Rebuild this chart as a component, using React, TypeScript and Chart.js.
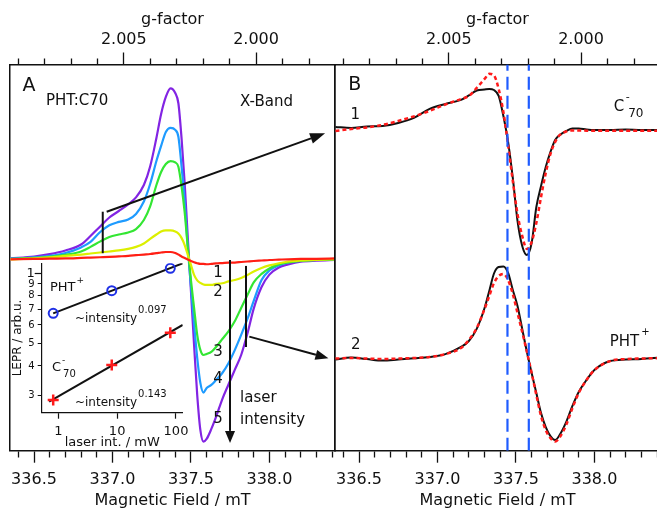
import { useEffect, useRef } from "react";
import { Chart, registerables } from "chart.js";

Chart.register(...registerables);

const FONT = "'DejaVu Sans', 'Liberation Sans', sans-serif";
const INK = "#111111";

// ---------- Panel A: light-induced EPR spectra of PHT:C70 (X-band), 5 laser intensities
const fieldA = [336.35, 336.5, 336.6, 336.7, 336.8, 336.86, 336.92, 336.98, 337.04, 337.1, 337.15, 337.2, 337.24, 337.28, 337.31, 337.34, 337.37, 337.4, 337.42, 337.44, 337.46, 337.48, 337.5, 337.52, 337.54, 337.56, 337.58, 337.6, 337.63, 337.66, 337.7, 337.74, 337.78, 337.82, 337.86, 337.9, 337.95, 338.0, 338.06, 338.12, 338.2, 338.3, 338.42];
const spectrum1 = [-0.002, 0.0, 0.002, 0.003, 0.006, 0.008, 0.01, 0.012, 0.015, 0.018, 0.022, 0.026, 0.029, 0.034, 0.038, 0.041, 0.041, 0.035, 0.026, 0.015, 0.006, -0.003, -0.012, -0.019, -0.025, -0.029, -0.029, -0.031, -0.029, -0.026, -0.024, -0.022, -0.021, -0.018, -0.015, -0.012, -0.009, -0.006, -0.004, -0.002, 0.0, 0.001, 0.003];
const spectrum2 = [-0.002, 0.003, 0.009, 0.018, 0.026, 0.032, 0.038, 0.044, 0.05, 0.059, 0.071, 0.091, 0.118, 0.144, 0.162, 0.168, 0.168, 0.162, 0.15, 0.124, 0.082, 0.024, -0.035, -0.094, -0.126, -0.141, -0.15, -0.153, -0.153, -0.147, -0.143, -0.132, -0.124, -0.112, -0.094, -0.074, -0.053, -0.038, -0.025, -0.015, -0.009, -0.005, -0.002];
const spectrum3 = [0.0, 0.006, 0.012, 0.024, 0.044, 0.071, 0.102, 0.129, 0.144, 0.156, 0.176, 0.229, 0.309, 0.435, 0.512, 0.559, 0.576, 0.568, 0.543, 0.429, 0.276, 0.066, -0.124, -0.288, -0.447, -0.535, -0.565, -0.559, -0.547, -0.518, -0.471, -0.424, -0.365, -0.288, -0.212, -0.138, -0.088, -0.056, -0.032, -0.021, -0.012, -0.006, -0.003];
const spectrum4 = [0.002, 0.009, 0.018, 0.035, 0.068, 0.1, 0.157, 0.198, 0.218, 0.232, 0.265, 0.338, 0.441, 0.576, 0.665, 0.747, 0.771, 0.759, 0.719, 0.547, 0.338, 0.065, -0.159, -0.382, -0.582, -0.729, -0.786, -0.759, -0.741, -0.712, -0.671, -0.612, -0.535, -0.447, -0.353, -0.247, -0.124, -0.068, -0.038, -0.021, -0.01, -0.006, -0.003];
const spectrum5 = [0.004, 0.014, 0.028, 0.05, 0.085, 0.135, 0.19, 0.244, 0.282, 0.321, 0.362, 0.435, 0.544, 0.712, 0.853, 0.953, 1.003, 0.976, 0.916, 0.712, 0.447, 0.124, -0.188, -0.506, -0.8, -1.006, -1.075, -1.059, -1.0, -0.929, -0.824, -0.737, -0.651, -0.565, -0.439, -0.292, -0.165, -0.092, -0.05, -0.032, -0.016, -0.01, -0.006];
const spectrumColors = ["#ff1f14", "#dcef00", "#33e633", "#1e9bff", "#8224e3"];

// ---------- Panel B: components (black, experiment) and simulations (red dotted)
const fieldB = [336.35, 336.45, 336.55, 336.65, 336.75, 336.85, 336.95, 337.05, 337.15, 337.2, 337.25, 337.3, 337.33, 337.36, 337.39, 337.42, 337.45, 337.48, 337.51, 337.54, 337.57, 337.6, 337.63, 337.66, 337.69, 337.72, 337.75, 337.78, 337.82, 337.86, 337.9, 337.95, 338.0, 338.1, 338.2, 338.3, 338.42];
const c70Experiment = [1.362, 1.356, 1.365, 1.368, 1.385, 1.415, 1.468, 1.497, 1.521, 1.547, 1.576, 1.582, 1.585, 1.579, 1.544, 1.426, 1.274, 1.062, 0.809, 0.662, 0.609, 0.679, 0.891, 1.015, 1.126, 1.215, 1.285, 1.315, 1.338, 1.353, 1.353, 1.347, 1.344, 1.344, 1.347, 1.344, 1.344];
const c70Simulation = [1.338, 1.35, 1.359, 1.374, 1.397, 1.424, 1.456, 1.494, 1.526, 1.544, 1.591, 1.644, 1.674, 1.665, 1.585, 1.45, 1.256, 1.044, 0.85, 0.721, 0.644, 0.685, 0.797, 0.95, 1.091, 1.203, 1.274, 1.315, 1.335, 1.341, 1.341, 1.34, 1.34, 1.34, 1.34, 1.34, 1.34];
const phtExperiment = [-0.006, 0.006, -0.003, -0.012, -0.006, 0.001, 0.009, 0.026, 0.068, 0.103, 0.174, 0.297, 0.397, 0.5, 0.538, 0.541, 0.503, 0.403, 0.309, 0.174, 0.038, -0.085, -0.203, -0.321, -0.403, -0.456, -0.479, -0.447, -0.374, -0.279, -0.197, -0.126, -0.068, -0.015, -0.006, -0.003, 0.006];
const phtSimulation = [0.0, 0.003, 0.0, -0.003, 0.0, 0.003, 0.009, 0.026, 0.062, 0.109, 0.179, 0.291, 0.368, 0.444, 0.485, 0.497, 0.462, 0.379, 0.268, 0.156, 0.038, -0.085, -0.215, -0.338, -0.421, -0.468, -0.488, -0.462, -0.391, -0.291, -0.203, -0.126, -0.068, -0.015, -0.003, 0.0, 0.003];
const markerFields = [337.446, 337.582];

// ---------- Inset: LEPR amplitude vs laser intensity (log-log)
const laserPower = [0.82, 8.1, 80];
const lePrPHT = [0.673, 0.842, 1.05];
const lePrC70 = [0.286, 0.404, 0.556];
const fitPowerPHT = [0.82, 130];
const fitPHT = [0.673, 1.104];
const fitPowerC70 = [0.7, 130];
const fitC70 = [0.281, 0.6];
const exponentPHT = "0.097";
const exponentC70 = "0.143";

// ---------- Axes
const fieldRange = [336.347, 338.418];
const fieldTickLabels = [336.5, 337.0, 337.5, 338.0];
const fieldMinorTicks = [336.4, 336.5, 336.6, 336.7, 336.8, 336.9, 337.0, 337.1, 337.2, 337.3, 337.4, 337.5, 337.6, 337.7, 337.8, 337.9, 338.0, 338.1, 338.2, 338.3, 338.4];
const gTicks = [2.009, 2.008, 2.007, 2.006, 2.005, 2.004, 2.003, 2.002, 2.001, 2.0, 1.999, 1.998];
const gTickLabels = [2.005, 2.0];
const G_FIELD_PRODUCT = 675.83; // g * B (mT) at the X-band frequency
const yRangeA = [-1.128, 1.144];
const yRangeB = [-0.542, 1.729];
const insetPowerRange = [0.523, 130];
const insetLePrRange = [0.252, 1.104];
const insetPowerTicks = [1, 10, 100];
const insetLePrTicks = [0.3, 0.4, 0.5, 0.6, 0.7, 0.8, 0.9, 1];

const near = (a: number, list: number[]) => list.some((m) => Math.abs(m - a) < 1e-6);
const isFieldMajor = (v: number) => near(v, fieldTickLabels);
const isGMajor = (v: number) => near(G_FIELD_PRODUCT / v, gTickLabels);

function txt(ctx: any, s: string, x: number, y: number, size: number, align: CanvasTextAlign = "left") {
  ctx.font = `${size}px ${FONT}`;
  ctx.textAlign = align;
  ctx.textBaseline = "middle";
  ctx.fillText(s, x, y);
  return x + (align === "left" ? ctx.measureText(s).width : 0);
}

function arrow(ctx: any, x1: number, y1: number, x2: number, y2: number, head: number, width: number) {
  const ang = Math.atan2(y2 - y1, x2 - x1);
  const bx = x2 - head * Math.cos(ang);
  const by = y2 - head * Math.sin(ang);
  ctx.beginPath();
  ctx.moveTo(x1, y1);
  ctx.lineTo(bx, by);
  ctx.stroke();
  ctx.beginPath();
  ctx.moveTo(x2, y2);
  ctx.lineTo(bx + (width / 2) * Math.sin(ang), by - (width / 2) * Math.cos(ang));
  ctx.lineTo(bx - (width / 2) * Math.sin(ang), by + (width / 2) * Math.cos(ang));
  ctx.closePath();
  ctx.fill();
}

function line(ctx: any, x1: number, y1: number, x2: number, y2: number) {
  ctx.beginPath();
  ctx.moveTo(x1, y1);
  ctx.lineTo(x2, y2);
  ctx.stroke();
}

const annotateA = {
  id: "annotateA",
  afterDatasetsDraw(chart: any) {
    const { ctx } = chart;
    const X = (v: number) => chart.scales.x.getPixelForValue(v);
    const Y = (v: number) => chart.scales.y.getPixelForValue(v);
    ctx.save();
    ctx.fillStyle = INK;
    ctx.strokeStyle = INK;
    ctx.lineWidth = 2;
    txt(ctx, "A", X(336.468), Y(1.018), 19, "center");
    txt(ctx, "PHT:C70", X(336.576), Y(0.926), 15);
    txt(ctx, "X-Band", X(337.813), Y(0.924), 15);
    line(ctx, X(336.938), Y(0.278), X(336.938), Y(0.034));
    arrow(ctx, X(336.963), Y(0.278), X(338.355), Y(0.739), 15, 11);
    arrow(ctx, X(337.749), Y(-0.006), X(337.749), Y(-1.082), 12, 10);
    line(ctx, X(337.851), Y(-0.041), X(337.851), Y(-0.518));
    arrow(ctx, X(337.872), Y(-0.457), X(338.376), Y(-0.584), 13, 10);
    const labelY = [-0.082, -0.197, -0.547, -0.706, -0.941];
    labelY.forEach((v, i) => txt(ctx, String(i + 1), X(337.673), Y(v), 15, "center"));
    txt(ctx, "laser", X(337.813), Y(-0.818), 15);
    txt(ctx, "intensity", X(337.813), Y(-0.947), 15);
    ctx.restore();
  },
};

const annotateB = {
  id: "annotateB",
  afterDatasetsDraw(chart: any) {
    const { ctx } = chart;
    const X = (v: number) => chart.scales.x.getPixelForValue(v);
    const Y = (v: number) => chart.scales.y.getPixelForValue(v);
    ctx.save();
    ctx.fillStyle = INK;
    txt(ctx, "B", X(336.473), Y(1.609), 19, "center");
    txt(ctx, "1", X(336.476), Y(1.432), 15, "center");
    txt(ctx, "2", X(336.479), Y(0.079), 15, "center");
    let e = txt(ctx, "C", X(338.123), Y(1.476), 15);
    txt(ctx, "-", e + 1.5, Y(1.476) - 10, 11);
    txt(ctx, "70", e + 4, Y(1.476) + 6.5, 12);
    e = txt(ctx, "PHT", X(338.098), Y(0.097), 15);
    txt(ctx, "+", e + 2, Y(0.097) - 10, 10);
    ctx.restore();
  },
};

const insetText = {
  id: "insetText",
  afterDatasetsDraw(chart: any) {
    const ctx = chart.ctx;
    const X = (v: number) => chart.scales.x.getPixelForValue(v);
    const Y = (v: number) => chart.scales.y.getPixelForValue(v);
    ctx.save();
    ctx.fillStyle = INK;
    let e = txt(ctx, "PHT", X(0.723), Y(0.865), 13);
    txt(ctx, "+", e + 1, Y(0.865) - 7, 9);
    e = txt(ctx, "~intensity", X(1.92), Y(0.64), 12);
    txt(ctx, exponentPHT, e + 1, Y(0.64) - 8.5, 10);
    e = txt(ctx, "C", X(0.782), Y(0.394), 13);
    txt(ctx, "-", e + 1, Y(0.394) - 7, 9);
    txt(ctx, "70", e + 2, Y(0.394) + 7, 10);
    e = txt(ctx, "~intensity", X(1.92), Y(0.279), 12);
    txt(ctx, exponentC70, e + 1, Y(0.279) - 8.5, 10);
    ctx.restore();
  },
};

const frameSide = (position: string, yRange: number[]) => ({
  type: "linear",
  position,
  display: true,
  min: yRange[0],
  max: yRange[1],
  afterFit: (ax: any) => {
    ax.width = 0;
  },
  ticks: { display: false },
  grid: { display: false, drawTicks: false },
  border: { display: true, color: INK, width: 1.5 },
});

function fieldScales(yRange: number[]) {
  const font = { family: FONT, size: 16 };
  return {
    x: {
      type: "linear",
      position: "bottom",
      min: fieldRange[0],
      max: fieldRange[1],
      afterBuildTicks: (ax: any) => {
        ax.ticks = fieldMinorTicks.map((value) => ({ value }));
      },
      afterFit: (ax: any) => {
        ax.height = 59.3;
      },
      grid: {
        display: true,
        drawOnChartArea: false,
        drawTicks: true,
        tickLength: 12,
        tickWidth: 1.3,
        tickColor: INK,
        tickBorderDash: (c: any) => (c.tick && !isFieldMajor(c.tick.value) ? [6, 40] : []),
      },
      border: { display: true, color: INK, width: 1.5 },
      ticks: { autoSkip: false, maxRotation: 0, padding: 7.5, color: INK, font, callback: (v: any) => (isFieldMajor(Number(v)) ? Number(v).toFixed(1) : "") },
      title: { display: true, text: "Magnetic Field / mT", color: INK, font, padding: { top: 0, bottom: 0 } },
    },
    g: {
      type: "linear",
      position: "top",
      min: fieldRange[0],
      max: fieldRange[1],
      afterBuildTicks: (ax: any) => {
        ax.ticks = gTicks.map((g) => ({ value: G_FIELD_PRODUCT / g }));
      },
      afterFit: (ax: any) => {
        ax.height = 64.5;
      },
      grid: {
        display: true,
        drawOnChartArea: false,
        drawTicks: true,
        tickLength: 12,
        tickWidth: 1.3,
        tickColor: INK,
        tickBorderDash: (c: any) => (c.tick && !isGMajor(c.tick.value) ? [0, 6, 6, 40] : []),
      },
      border: { display: true, color: INK, width: 1.5 },
      ticks: {
        autoSkip: false,
        maxRotation: 0,
        padding: 3,
        color: INK,
        font,
        callback: (v: any) => (isGMajor(Number(v)) ? (G_FIELD_PRODUCT / Number(v)).toFixed(3) : ""),
      },
      title: { display: true, text: "g-factor", color: INK, font, padding: { top: 10, bottom: 0 } },
    },
    y: frameSide("left", yRange),
    yRight: frameSide("right", yRange),
  };
}

const baseOptions = {
  animation: false,
  responsive: false,
  events: [],
  plugins: { legend: { display: false }, tooltip: { enabled: false } },
};

function configA(): any {
  const series = [spectrum1, spectrum2, spectrum3, spectrum4, spectrum5];
  return {
    type: "line",
    data: {
      datasets: series.map((s, k) => ({
        data: fieldA.map((x, i) => ({ x, y: s[i] })),
        borderColor: spectrumColors[k],
        borderWidth: 2.2,
        pointRadius: 0,
        cubicInterpolationMode: "monotone",
        borderJoinStyle: "round",
      })),
    },
    options: { ...baseOptions, layout: { padding: { left: 10, right: 10, top: 0, bottom: 0 } }, scales: fieldScales(yRangeA) },
    plugins: [annotateA],
  };
}

function configB(): any {
  const markers = markerFields.map((m) => ({
    data: [
      { x: m, y: yRangeB[0] },
      { x: m, y: yRangeB[1] },
    ],
    borderColor: "#1f5cff",
    borderWidth: 2.2,
    borderDash: [13, 6],
    pointRadius: 0,
  }));
  const sim = (s: number[]) => ({
    data: fieldB.map((x, i) => ({ x, y: s[i] })),
    borderColor: "#ff1a1a",
    borderWidth: 2.5,
    borderDash: [4, 3],
    pointRadius: 0,
    cubicInterpolationMode: "monotone",
  });
  const exp = (s: number[]) => ({
    data: fieldB.map((x, i) => ({ x, y: s[i] })),
    borderColor: INK,
    borderWidth: 2,
    pointRadius: 0,
    cubicInterpolationMode: "monotone",
    borderJoinStyle: "round",
  });
  return {
    type: "line",
    data: { datasets: [...markers, sim(c70Simulation), sim(phtSimulation), exp(c70Experiment), exp(phtExperiment)] },
    options: { ...baseOptions, layout: { padding: { left: 10, right: 10, top: 0, bottom: 0 } }, scales: fieldScales(yRangeB) },
    plugins: [annotateB],
  };
}

function configInset(): any {
  const font13 = { family: FONT, size: 13 };
  return {
    type: "line",
    data: {
      datasets: [
        {
          data: laserPower.map((x, i) => ({ x, y: lePrPHT[i] })),
          showLine: false,
          pointStyle: "circle",
          pointRadius: 4.5,
          borderWidth: 2,
          pointBorderWidth: 2,
          borderColor: "#1f30e6",
          pointBorderColor: "#1f30e6",
          backgroundColor: "rgba(0,0,0,0)",
          pointBackgroundColor: "rgba(0,0,0,0)",
        },
        {
          data: laserPower.map((x, i) => ({ x, y: lePrC70[i] })),
          showLine: false,
          pointStyle: "cross",
          pointRadius: 5.5,
          borderWidth: 2.5,
          pointBorderWidth: 2.5,
          borderColor: "#ff1a1a",
          pointBorderColor: "#ff1a1a",
        },
        { data: fitPowerPHT.map((x, i) => ({ x, y: fitPHT[i] })), borderColor: INK, borderWidth: 2, pointRadius: 0 },
        { data: fitPowerC70.map((x, i) => ({ x, y: fitC70[i] })), borderColor: INK, borderWidth: 2, pointRadius: 0 },
      ],
    },
    options: {
      ...baseOptions,
      layout: { padding: { left: 0, right: 12.3, top: 8.3, bottom: 0 } },
      scales: {
        x: {
          type: "logarithmic",
          position: "bottom",
          min: insetPowerRange[0],
          max: insetPowerRange[1],
          afterBuildTicks: (ax: any) => {
            ax.ticks = insetPowerTicks.map((value) => ({ value }));
          },
          afterFit: (ax: any) => {
            ax.height = 37.3;
          },
          grid: { display: true, drawOnChartArea: false, drawTicks: true, tickLength: 6, tickWidth: 1.2, tickColor: INK },
          border: { display: true, color: INK, width: 1.2 },
          ticks: { autoSkip: false, maxRotation: 0, padding: 5.5, color: INK, font: font13, callback: (v: any) => String(v) },
          title: { display: true, text: "laser int. / mW", color: INK, font: font13, padding: { top: 0, bottom: 0 } },
        },
        y: {
          type: "logarithmic",
          position: "left",
          min: insetLePrRange[0],
          max: insetLePrRange[1],
          afterBuildTicks: (ax: any) => {
            ax.ticks = insetLePrTicks.map((value) => ({ value }));
          },
          afterFit: (ax: any) => {
            ax.width = 41.7;
          },
          grid: {
            display: true,
            drawOnChartArea: false,
            drawTicks: true,
            tickLength: 7,
            tickWidth: 1.2,
            tickColor: INK,
            tickBorderDash: (c: any) => (c.tick && c.tick.value !== 1 ? [0, 3, 4, 30] : []),
          },
          border: { display: true, color: INK, width: 1.2 },
          ticks: {
            autoSkip: false,
            padding: 0,
            color: INK,
            font: (c: any) => ({ family: FONT, size: c.tick && c.tick.value === 1 ? 13 : 10 }),
            callback: (v: any) => (Number(v) === 1 ? "1" : String(Math.round(Number(v) * 10))),
          },
          title: { display: true, text: "LEPR / arb.u.", color: INK, font: { family: FONT, size: 12 }, padding: { top: 11, bottom: 0 } },
        },
      },
    },
    plugins: [insetText],
  };
}

export default function App() {
  const aRef = useRef<HTMLCanvasElement>(null);
  const bRef = useRef<HTMLCanvasElement>(null);
  const insetRef = useRef<HTMLCanvasElement>(null);

  useEffect(() => {
    const charts = [
      new Chart(aRef.current as HTMLCanvasElement, configA()),
      new Chart(bRef.current as HTMLCanvasElement, configB()),
      new Chart(insetRef.current as HTMLCanvasElement, configInset()),
    ];
    return () => charts.forEach((c) => c.destroy());
  }, []);

  return (
    <div style={{ position: "fixed", left: 0, top: 0, width: 657, height: 510, overflow: "hidden", background: "#ffffff" }}>
      <canvas ref={aRef} width={345} height={510} style={{ position: "absolute", left: 0, top: 0, width: 345, height: 510 }} />
      <canvas ref={bRef} width={345} height={510} style={{ position: "absolute", left: 325, top: 0, width: 345, height: 510 }} />
      <canvas ref={insetRef} width={195} height={195} style={{ position: "absolute", left: 0, top: 255, width: 195, height: 195 }} />
    </div>
  );
}
